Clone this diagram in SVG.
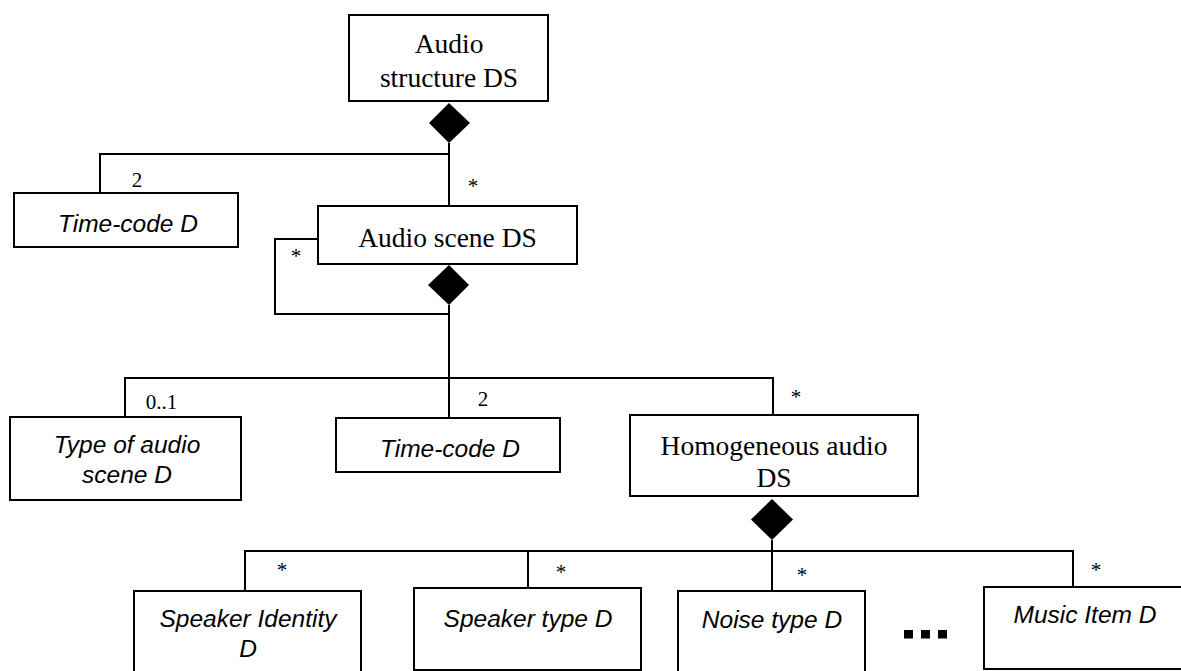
<svg xmlns="http://www.w3.org/2000/svg" width="1181" height="671" viewBox="0 0 1181 671">
<style>
.box{fill:#fff;stroke:#000;stroke-width:2}
.ln{fill:none;stroke:#000;stroke-width:2}
.dia{fill:#000;stroke:none}
.ser{font-family:"Liberation Serif","Times New Roman",serif;font-size:27.5px;fill:#000;text-anchor:middle}
.san{font-family:"Liberation Sans",Arial,sans-serif;font-size:24.5px;font-style:italic;fill:#000;text-anchor:middle}
.mul{font-family:"Liberation Serif","Times New Roman",serif;font-size:21px;fill:#000;text-anchor:middle}
</style>
<rect width="1181" height="671" fill="#fff"/>
<g id="connectors">
<polyline class="ln" points="100,193 100,154 449,154"/>
<polyline class="ln" points="449,143 449,206"/>
<polyline class="ln" points="318,239 275,239 275,314 449,314"/>
<polyline class="ln" points="449,305 449,418"/>
<polyline class="ln" points="125,417 125,378 773,378 773,415"/>
<polyline class="ln" points="772,540 772,591"/>
<polyline class="ln" points="245,591 245,551 1073,551 1073,587"/>
<polyline class="ln" points="528,551 528,588"/>
<polygon class="dia" points="449,103 470,123 449,143 429,123"/>
<polygon class="dia" points="449,265 469,285 449,305 428,285"/>
<polygon class="dia" points="772,499 793,519.5 772,540 751,519.5"/>
<text class="mul" x="137" y="187">2</text>
<text class="mul" x="473" y="193">*</text>
<text class="mul" x="296" y="263">*</text>
<text class="mul" x="161.5" y="409">0..1</text>
<text class="mul" x="483" y="406">2</text>
<text class="mul" x="796" y="404">*</text>
<text class="mul" x="282" y="577">*</text>
<text class="mul" x="561" y="579">*</text>
<text class="mul" x="802" y="582">*</text>
<text class="mul" x="1096" y="577">*</text>
</g>
<g id="audio-structure">
<rect class="box" x="349" y="15" width="199" height="86"/>
<text class="ser" x="449" y="53">Audio</text>
<text class="ser" x="449" y="87">structure DS</text>
</g>
<g id="time-code-1">
<rect class="box" x="14" y="193" width="224" height="54"/>
<text class="san" x="128" y="232">Time-code D</text>
</g>
<g id="audio-scene">
<rect class="box" x="318" y="206" width="259" height="58"/>
<text class="ser" x="447.5" y="247">Audio scene DS</text>
</g>
<g id="type-of-audio-scene">
<rect class="box" x="10" y="417" width="231" height="83"/>
<text class="san" x="127" y="453">Type of audio</text>
<text class="san" x="127" y="483">scene D</text>
</g>
<g id="time-code-2">
<rect class="box" x="336" y="418" width="224" height="54"/>
<text class="san" x="450" y="457">Time-code D</text>
</g>
<g id="homogeneous-audio">
<rect class="box" x="630" y="415" width="288" height="81"/>
<text class="ser" x="774" y="455">Homogeneous audio</text>
<text class="ser" x="774" y="487">DS</text>
</g>
<g id="speaker-identity">
<rect class="box" x="134" y="591" width="227" height="82"/>
<text class="san" x="248" y="627">Speaker Identity</text>
<text class="san" x="248" y="657">D</text>
</g>
<g id="speaker-type">
<rect class="box" x="414" y="588" width="227" height="82"/>
<text class="san" x="528" y="627">Speaker type D</text>
</g>
<g id="noise-type">
<rect class="box" x="678" y="591" width="187" height="82"/>
<text class="san" x="772" y="628">Noise type D</text>
</g>
<g id="ellipsis">
<rect x="904" y="630" width="9" height="8.5" fill="#000"/>
<rect x="921" y="630" width="9" height="8.5" fill="#000"/>
<rect x="938" y="630" width="9" height="8.5" fill="#000"/>
</g>
<g id="music-item">
<rect class="box" x="984" y="587" width="205" height="82"/>
<text class="san" x="1085" y="623">Music Item D</text>
</g>
</svg>
